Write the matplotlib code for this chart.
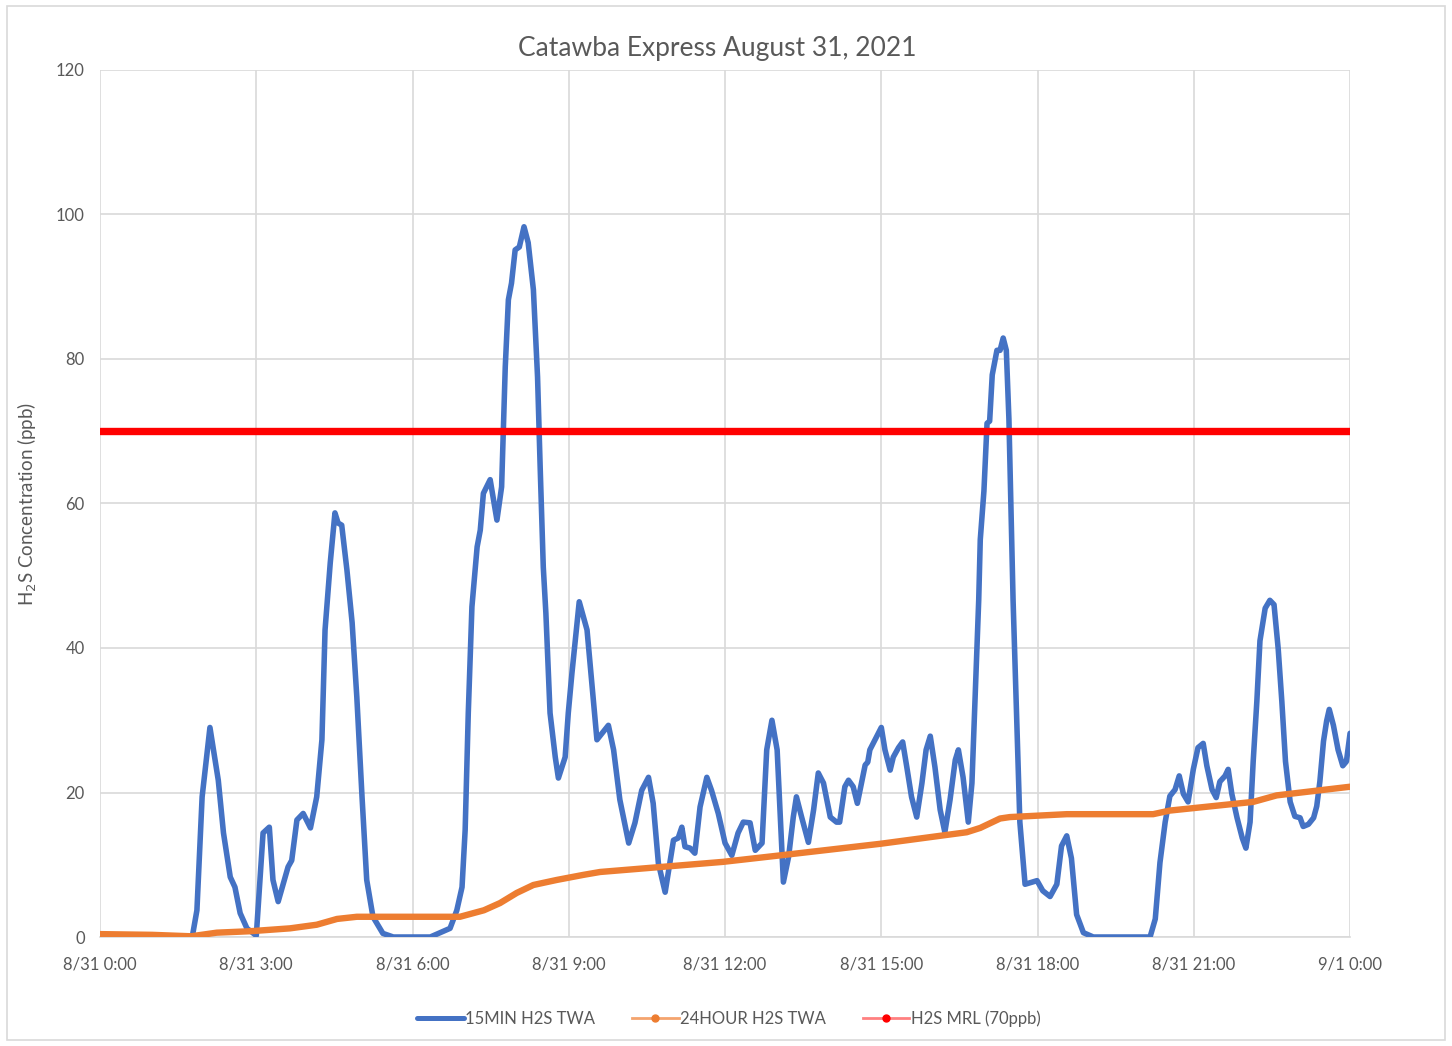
import matplotlib
matplotlib.use("Agg")
import matplotlib.pyplot as plt
from matplotlib.lines import Line2D
from matplotlib.patches import Rectangle

plt.rcParams['font.family'] = ['Lato', 'DejaVu Sans']

# data (hours after 8/31 0:00)
twa15_hours = [0.0, 0.5, 1.0, 1.5, 1.77, 1.86, 1.96, 2.11, 2.27, 2.37, 2.5, 2.59, 2.69, 2.82,
               3.0, 3.07, 3.13, 3.25, 3.32, 3.42, 3.52, 3.61, 3.68, 3.78, 3.9, 4.04, 4.16,
               4.26, 4.32, 4.42, 4.51, 4.57, 4.64, 4.74, 4.84, 4.93, 5.03, 5.12, 5.24, 5.43,
               5.63, 6.34, 6.59, 6.72, 6.85, 6.95, 7.01, 7.07, 7.14, 7.24, 7.3, 7.36, 7.49,
               7.62, 7.71, 7.78, 7.84, 7.9, 7.97, 8.05, 8.14, 8.22, 8.32, 8.4, 8.45, 8.51,
               8.56, 8.64, 8.74, 8.8, 8.93, 8.99, 9.06, 9.2, 9.35, 9.54, 9.76, 9.86, 9.98,
               10.15, 10.27, 10.4, 10.53, 10.62, 10.72, 10.85, 10.94, 11.01, 11.1, 11.17,
               11.23, 11.33, 11.42, 11.52, 11.65, 11.74, 11.87, 12.0, 12.13, 12.25, 12.35,
               12.48, 12.58, 12.71, 12.8, 12.9, 13.0, 13.06, 13.12, 13.22, 13.31, 13.37,
               13.47, 13.6, 13.7, 13.79, 13.89, 14.02, 14.14, 14.2, 14.3, 14.37, 14.46,
               14.54, 14.62, 14.69, 14.74, 14.78, 14.88, 15.0, 15.07, 15.17, 15.23, 15.33,
               15.41, 15.49, 15.58, 15.68, 15.78, 15.86, 15.94, 16.03, 16.13, 16.22, 16.32,
               16.42, 16.48, 16.57, 16.67, 16.74, 16.8, 16.87, 16.9, 16.97, 17.03, 17.08,
               17.13, 17.22, 17.28, 17.34, 17.4, 17.45, 17.53, 17.6, 17.66, 17.76, 17.99,
               18.1, 18.24, 18.37, 18.46, 18.56, 18.65, 18.75, 18.88, 19.07, 20.16, 20.26,
               20.35, 20.45, 20.54, 20.64, 20.72, 20.8, 20.89, 20.99, 21.08, 21.18, 21.25,
               21.35, 21.43, 21.5, 21.6, 21.66, 21.73, 21.83, 21.93, 22.0, 22.08, 22.14,
               22.21, 22.27, 22.37, 22.46, 22.54, 22.62, 22.69, 22.76, 22.85, 22.94, 23.04,
               23.1, 23.2, 23.3, 23.36, 23.42, 23.49, 23.55, 23.6, 23.68, 23.77, 23.86,
               23.93, 24.0]
twa15_ppb = [0.3, 0.2, 0.2, 0.1, 0.0, 3.7, 19.4, 29.0, 21.7, 14.4, 8.3, 6.9, 3.3, 1.2,
             0.2, 7.9, 14.4, 15.2, 7.9, 4.9, 7.4, 9.7, 10.6, 16.2, 17.1, 15.1, 19.4,
             27.3, 42.5, 51.8, 58.7, 57.3, 57.0, 50.8, 43.5, 33.2, 19.4, 7.9, 2.8, 0.5,
             0.0, 0.0, 0.8, 1.2, 3.7, 6.9, 14.8, 31.0, 45.7, 54.0, 56.3, 61.4, 63.3,
             57.7, 62.3, 78.9, 88.2, 90.5, 95.1, 95.5, 98.3, 96.1, 89.6, 77.5, 65.1, 51.2,
             44.8, 31.0, 24.9, 22.0, 24.9, 31.0, 36.5, 46.4, 42.5, 27.3, 29.3, 25.9, 19.0,
             13.0, 15.8, 20.3, 22.1, 18.5, 10.2, 6.2, 10.2, 13.4, 13.7, 15.2,
             12.5, 12.3, 11.6, 18.0, 22.1, 20.3, 17.1, 13.0, 11.3, 14.4, 15.9,
             15.8, 12.0, 13.0, 25.9, 30.0, 25.9, 16.6, 7.6, 11.1, 16.6, 19.4,
             16.6, 13.1, 17.6, 22.7, 21.3, 16.6, 15.9, 15.9, 20.8, 21.7, 20.8,
             18.5, 21.3, 23.8, 24.2, 25.9, 27.3, 29.0, 25.9, 23.1, 24.9, 26.2,
             27.0, 23.5, 19.4, 16.6, 21.3, 25.9, 27.8, 23.5, 17.6, 14.5, 19.0,
             24.5, 25.9, 22.1, 15.9, 21.3, 32.8, 46.6, 55.0, 61.7, 71.1, 71.4,
             77.8, 81.2, 81.2, 82.9, 81.2, 71.7, 46.6, 29.9, 15.9, 7.3, 7.8,
             6.4, 5.6, 7.3, 12.6, 14.0, 10.9, 3.1, 0.6, 0.0, 0.0, 2.5,
             10.3, 15.9, 19.5, 20.4, 22.3, 19.8, 18.7, 23.2, 26.2, 26.8, 23.7,
             20.4, 19.3, 21.5, 22.3, 23.2, 19.8, 16.5, 13.7, 12.3, 15.9, 24.3,
             32.6, 41.0, 45.5, 46.6, 46.0, 39.9, 32.6, 24.3, 18.7, 16.7, 16.5,
             15.3, 15.6, 16.5, 18.1, 21.5, 27.1, 29.9, 31.5, 29.3, 25.9, 23.7,
             24.3, 28.2]

twa24_hours = [0.0, 1.0, 1.75, 2.24, 2.88, 3.65, 4.16, 4.55, 4.93, 6.91, 7.37, 7.68, 8.0,
               8.32, 8.77, 9.28, 9.6, 11.96, 13.06, 14.98, 16.64, 16.9, 17.28, 17.47,
               18.56, 20.22, 20.54, 22.14, 22.59, 24.0]
twa24_ppb = [0.4, 0.3, 0.1, 0.6, 0.8, 1.2, 1.7, 2.5, 2.8, 2.8, 3.7, 4.7, 6.1,
             7.2, 7.9, 8.6, 9.0, 10.4, 11.3, 12.9, 14.5, 15.1, 16.4, 16.6,
             17.0, 17.0, 17.5, 18.7, 19.6, 20.8]

mrl_hours = [0, 24]
mrl_ppb = [70, 70]

x_ticks = [0, 3, 6, 9, 12, 15, 18, 21, 24]
x_labels = ['8/31 0:00', '8/31 3:00', '8/31 6:00', '8/31 9:00', '8/31 12:00',
            '8/31 15:00', '8/31 18:00', '8/31 21:00', '9/1 0:00']
y_ticks = [0, 20, 40, 60, 80, 100, 120]

blue = '#4472C4'
orange = '#ED7D31'
red = '#FF0000'
grid = '#D9D9D9'
txt = '#595959'

fig = plt.figure(figsize=(14.52, 10.46), dpi=100)
ax = fig.add_axes([0.0689, 0.1042, 0.8609, 0.8289])

ax.plot(twa15_hours, twa15_ppb, color=blue, lw=4.0, solid_joinstyle='round',
        solid_capstyle='round', zorder=3)
ax.plot(twa24_hours, twa24_ppb, color=orange, lw=4.6, solid_joinstyle='round',
        solid_capstyle='round', zorder=4)
ax.plot(mrl_hours, mrl_ppb, color=red, lw=5.3, solid_capstyle='round', zorder=5)

ax.set_xlim(0, 24)
ax.set_ylim(0, 120)
ax.set_xticks(x_ticks)
ax.set_xticklabels(x_labels)
ax.set_yticks(y_ticks)
ax.tick_params(length=0, labelsize=12, colors=txt, pad=14)
ax.tick_params(axis='y', pad=11)
ax.grid(True, color=grid, lw=1.2)
ax.set_axisbelow(True)
for side in ['top', 'right', 'left']:
    ax.spines[side].set_visible(False)
ax.spines['bottom'].set_color(grid)
ax.spines['bottom'].set_linewidth(1.2)

ax.set_title('Catawba Express August 31, 2021', fontsize=19, color=txt, pad=10, x=0.494)
ax.set_ylabel('H$_2$S Concentration (ppb)', fontsize=13.5, color=txt, labelpad=12)

handles = [
    Line2D([], [], color=blue, lw=3.6, solid_capstyle='round'),
    Line2D([], [], color='#F4A46E', lw=2, marker='o', markersize=5,
           markerfacecolor=orange, markeredgecolor=orange),
    Line2D([], [], color='#FF8080', lw=2, marker='o', markersize=5,
           markerfacecolor=red, markeredgecolor=red),
]
fig.legend(handles, ['15MIN H2S TWA', '24HOUR H2S TWA', 'H2S MRL (70ppb)'],
           loc='center', bbox_to_anchor=(0.502, 0.026), ncol=3, frameon=False,
           fontsize=12, labelcolor=txt, handlelength=2.8, handletextpad=0.1,
           columnspacing=2.2)

fig.add_artist(Rectangle((0.005, 0.006), 0.99, 0.988, transform=fig.transFigure,
                         fill=False, edgecolor=grid, lw=1.2))

fig.savefig('out.png', dpi=100, facecolor='white')
